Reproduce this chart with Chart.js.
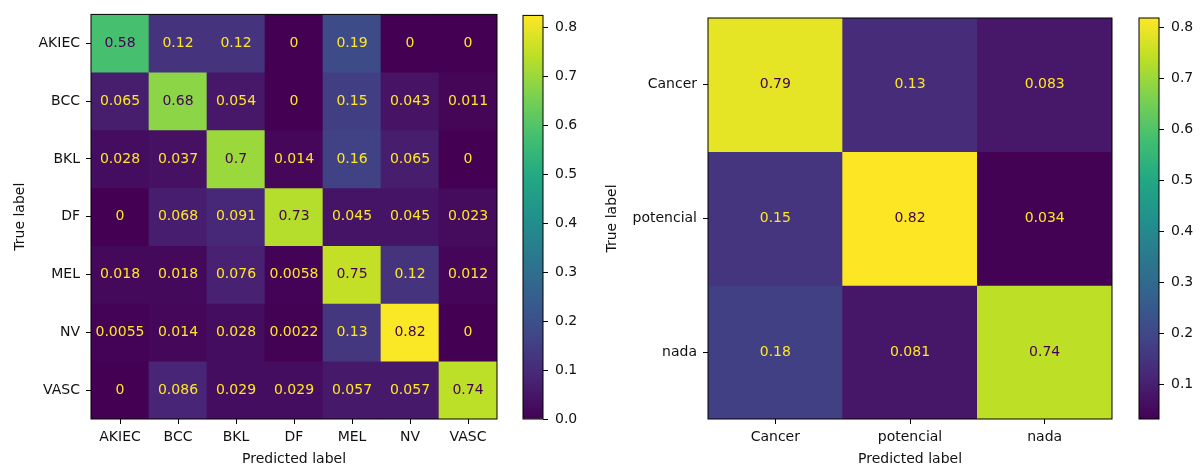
<!DOCTYPE html>
<html>
<head>
<meta charset="utf-8">
<script src="https://cdn.jsdelivr.net/npm/chart.js@4.4.1/dist/chart.umd.min.js"></script>
<style>
  body { margin: 0; background: #fff; width: 1201px; height: 464px; overflow: hidden; position: relative; }
  canvas { position: absolute; top: 0; }
</style>
</head>
<body>
<canvas id="cm1" width="505" height="464" style="left:0px"></canvas>
<canvas id="cb1" width="80" height="464" style="left:515px"></canvas>
<canvas id="cm2" width="530" height="464" style="left:595px"></canvas>
<canvas id="cb2" width="70" height="464" style="left:1131px"></canvas>
<script>
// --- left matrix: 7 classes ---
const classes7 = ['AKIEC', 'BCC', 'BKL', 'DF', 'MEL', 'NV', 'VASC'];
const rowAKIEC = [0.58, 0.12, 0.12, 0, 0.19, 0, 0];
const rowBCC   = [0.065, 0.68, 0.054, 0, 0.15, 0.043, 0.011];
const rowBKL   = [0.028, 0.037, 0.7, 0.014, 0.16, 0.065, 0];
const rowDF    = [0, 0.068, 0.091, 0.73, 0.045, 0.045, 0.023];
const rowMEL   = [0.018, 0.018, 0.076, 0.0058, 0.75, 0.12, 0.012];
const rowNV    = [0.0055, 0.014, 0.028, 0.0022, 0.13, 0.82, 0];
const rowVASC  = [0, 0.086, 0.029, 0.029, 0.057, 0.057, 0.74];
const range7 = [0, 0.824];
const cbTicks7 = [0, 0.1, 0.2, 0.3, 0.4, 0.5, 0.6, 0.7, 0.8];

// --- right matrix: 3 classes ---
const classes3 = ['Cancer', 'potencial', 'nada'];
const rowCancer = [0.79, 0.13, 0.083];
const rowPotencial = [0.15, 0.82, 0.034];
const rowNada = [0.18, 0.081, 0.74];
const range3 = [0.032, 0.819];
const cbTicks3 = [0.1, 0.2, 0.3, 0.4, 0.5, 0.6, 0.7, 0.8];

const viridisStops = ['#440154', '#482475', '#414487', '#355f8d', '#2a788e', '#21918c',
                      '#22a884', '#44bf70', '#7ad151', '#bddf26', '#fde725'];

function hexRgb(h) {
  return [parseInt(h.slice(1, 3), 16), parseInt(h.slice(3, 5), 16), parseInt(h.slice(5, 7), 16)];
}
function viridis(t) {
  t = Math.max(0, Math.min(1, t));
  const k = Math.min(9, Math.floor(t * 10));
  const f = t * 10 - k;
  const a = hexRgb(viridisStops[k]), b = hexRgb(viridisStops[k + 1]);
  const c = a.map((v, i) => Math.round(v + (b[i] - v) * f));
  return 'rgb(' + c.join(',') + ')';
}
function fmt(v) {
  return String(Number(v.toPrecision(2)));
}

Chart.defaults.font.family = 'DejaVu Sans';
Chart.defaults.font.size = 14;
Chart.defaults.color = '#111';

const frame = {
  id: 'frame',
  afterDraw(chart) {
    const a = chart.chartArea, ctx = chart.ctx;
    ctx.save();
    ctx.strokeStyle = '#000';
    ctx.lineWidth = 1;
    ctx.strokeRect(a.left, a.top, a.right - a.left, a.bottom - a.top);
    ctx.restore();
  }
};

function makeMatrix(id, labels, rows, range, yWidth, titlePad, pad) {
  const thresh = (Math.max(...rows.flat()) + Math.min(...rows.flat())) / 2;
  const cellText = {
    id: 'cellText',
    afterDatasetsDraw(chart) {
      const ctx = chart.ctx, xs = chart.scales.x, ys = chart.scales.y;
      ctx.save();
      ctx.font = '14px "DejaVu Sans"';
      ctx.textAlign = 'center';
      ctx.textBaseline = 'middle';
      rows.forEach((row, i) => {
        row.forEach((v, j) => {
          ctx.fillStyle = v < thresh ? viridisStops[10] : viridisStops[0];
          ctx.fillText(fmt(v), xs.getPixelForValue(j), ys.getPixelForValue(i));
        });
      });
      ctx.restore();
    }
  };
  return new Chart(document.getElementById(id), {
    type: 'bar',
    data: {
      labels: labels,
      datasets: rows.map((row, i) => ({
        data: labels.map(() => [i - 0.5, i + 0.5]),
        backgroundColor: row.map(v => viridis((v - range[0]) / (range[1] - range[0]))),
        grouped: false,
        barPercentage: 1,
        categoryPercentage: 1,
        borderWidth: 0
      }))
    },
    options: {
      responsive: false,
      animation: false,
      devicePixelRatio: 1,
      layout: { padding: pad },
      plugins: { legend: { display: false }, tooltip: { enabled: false } },
      scales: {
        x: {
          type: 'category',
          offset: true,
          grid: { offset: false, drawOnChartArea: false, tickLength: 5, tickColor: '#000' },
          border: { display: false },
          ticks: { padding: 5, maxRotation: 0, autoSkip: false },
          title: { display: true, text: 'Predicted label', font: { size: 14, lineHeight: 1 }, padding: { top: 0, bottom: -2 } },
          afterFit: s => { s.height = 45; }
        },
        y: {
          type: 'linear',
          reverse: true,
          min: -0.5,
          max: labels.length - 0.5,
          afterBuildTicks: s => { s.ticks = labels.map((_, i) => ({ value: i })); },
          grid: { drawOnChartArea: false, tickLength: 5, tickColor: '#000' },
          border: { display: false },
          ticks: { padding: 6, autoSkip: false, callback: v => labels[v] },
          title: { display: true, text: 'True label', font: { size: 14, lineHeight: 1 }, padding: { top: titlePad, bottom: 0 } },
          afterFit: s => { s.width = yWidth; }
        }
      }
    },
    plugins: [frame, cellText]
  });
}

function makeColorbar(id, range, ticks, yWidth, pad) {
  return new Chart(document.getElementById(id), {
    type: 'bar',
    data: {
      labels: [''],
      datasets: [{
        data: [[range[0], range[1]]],
        backgroundColor: ctx => {
          const chart = ctx.chart;
          if (!chart.chartArea) return null;
          const ys = chart.scales.y;
          const g = chart.ctx.createLinearGradient(0, ys.getPixelForValue(range[0]), 0, ys.getPixelForValue(range[1]));
          viridisStops.forEach((c, k) => g.addColorStop(k / 10, c));
          return g;
        },
        barPercentage: 1,
        categoryPercentage: 1,
        borderWidth: 0
      }]
    },
    options: {
      responsive: false,
      animation: false,
      devicePixelRatio: 1,
      layout: { padding: pad },
      plugins: { legend: { display: false }, tooltip: { enabled: false } },
      scales: {
        x: { display: false },
        y: {
          position: 'right',
          min: range[0],
          max: range[1],
          afterBuildTicks: s => { s.ticks = ticks.map(v => ({ value: v })); },
          grid: { drawOnChartArea: false, tickLength: 5, tickColor: '#000' },
          border: { display: false },
          ticks: { padding: 7, callback: v => v.toFixed(1) },
          afterFit: s => { s.width = yWidth; }
        }
      }
    },
    plugins: [frame]
  });
}

makeMatrix('cm1', classes7, [rowAKIEC, rowBCC, rowBKL, rowDF, rowMEL, rowNV, rowVASC], range7, 91, 13,
  { top: 14, right: 8, left: 0, bottom: 0 });
makeColorbar('cb1', range7, cbTicks7, 52, { top: 14, right: 0, left: 8, bottom: 45 });

makeMatrix('cm2', classes3, [rowCancer, rowPotencial, rowNada], range3, 113, 10,
  { top: 18, right: 13, left: 0, bottom: 0 });
makeColorbar('cb2', range3, cbTicks3, 42, { top: 18, right: 0, left: 8, bottom: 45 });
</script>
</body>
</html>
